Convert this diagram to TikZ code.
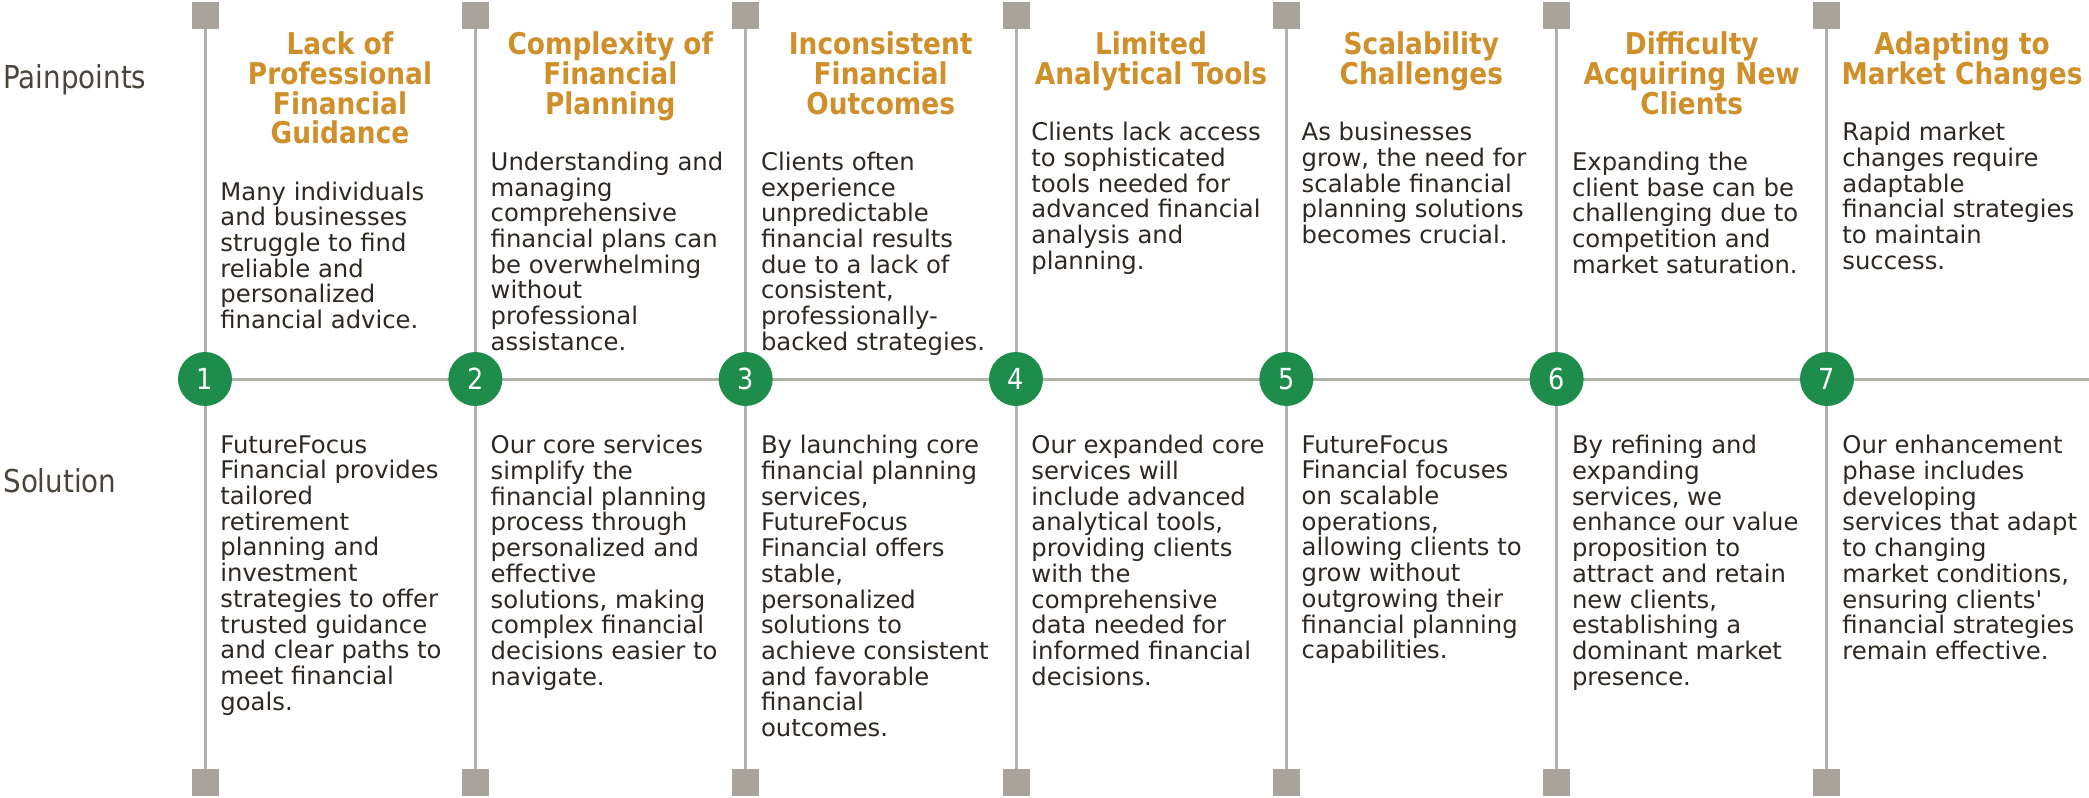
\documentclass[tikz,border=0pt]{standalone}
\usepackage{fontspec}
\setmainfont{DejaVu Sans}
\newfontfamily\narrowfont[FakeStretch=0.88]{DejaVu Sans}
\usetikzlibrary{positioning, calc, backgrounds}

\definecolor{stemgray}{HTML}{B4B0AA}
\definecolor{boxgray}{HTML}{A8A49C}
\definecolor{stepgreen}{HTML}{1E8C4B}
\definecolor{headgold}{HTML}{CF8F2A}
\definecolor{bodyink}{HTML}{2E2822}
\definecolor{rowink}{HTML}{4A443C}

\begin{document}
\begin{tikzpicture}[
    x=0.5pt, y=0.5pt,
    stem/.style={draw=stemgray, line width=1.5pt},
    endbox/.style={fill=boxgray, minimum size=13.5pt, inner sep=0pt},
    stepnum/.style={circle, fill=stepgreen, text=white, minimum size=27pt, inner sep=0pt,
                    font=\narrowfont\fontsize{14.5}{15}\selectfont},
    rowlabel/.style={anchor=base west, inner sep=0pt, text=rowink,
                     font=\narrowfont\fontsize{15.75}{17}\selectfont},
    head/.style={anchor=north, align=center, inner sep=0pt, text=headgold,
                 font=\narrowfont\bfseries\fontsize{15}{14.85}\selectfont,
                 execute at begin node=\strut, execute at end node=\strut},
    body/.style={anchor=north west, align=left, inner sep=0pt, text=bodyink,
                 font=\fontsize{12.15}{12.85}\selectfont,
                 execute at begin node=\strut, execute at end node=\strut}
  ]
    \useasboundingbox (0,0) rectangle (2089,-798);

    % timeline: end boxes and numbered steps
    \foreach \i in {1,...,7} {
      \node[endbox] (top\i) at ({205+270.33*(\i-1)},-15.5) {};
      \node[endbox] (bot\i) at ({205+270.33*(\i-1)},-782.5) {};
      \node[stepnum] (n\i) at ({205+270.33*(\i-1)},-379) {\i};
    }
    \coordinate (railend) at (2089,-379);

    \begin{scope}[on background layer]
      \foreach \i in {1,...,7} \draw[stem] (top\i.center) -- (bot\i.center);
      \draw[stem] (n1.center) -- (railend);
    \end{scope}

    \node[rowlabel] (painlbl) at (3,-88) {Painpoints};
    \node[rowlabel] (sollbl) at (3,-492) {Solution};

    % pain points
    \node[head] (h1) at (340,-31.7) {Lack of\\Professional\\Financial\\Guidance};
    \node[head] (h2) at (610.3,-31.7) {Complexity of\\Financial\\Planning};
    \node[head] (h3) at (880.7,-31.7) {Inconsistent\\Financial\\Outcomes};
    \node[head] (h4) at (1151,-31.7) {Limited\\Analytical Tools};
    \node[head] (h5) at (1421.3,-31.7) {Scalability\\Challenges};
    \node[head] (h6) at (1691.7,-31.7) {Difficulty\\Acquiring New\\Clients};
    \node[head] (h7) at (1962,-31.7) {Adapting to\\Market Changes};

    \node[body] (p1) at ($(h1.south -| top1)+(15,-28)$)
      {Many individuals\\and businesses\\struggle to find\\reliable and\\personalized\\financial advice.};
    \node[body] (p2) at ($(h2.south -| top2)+(15,-28)$)
      {Understanding and\\managing\\comprehensive\\financial plans can\\be overwhelming\\without\\professional\\assistance.};
    \node[body] (p3) at ($(h3.south -| top3)+(15,-28)$)
      {Clients often\\experience\\unpredictable\\financial results\\due to a lack of\\consistent,\\professionally-\\backed strategies.};
    \node[body] (p4) at ($(h4.south -| top4)+(15,-28)$)
      {Clients lack access\\to sophisticated\\tools needed for\\advanced financial\\analysis and\\planning.};
    \node[body] (p5) at ($(h5.south -| top5)+(15,-28)$)
      {As businesses\\grow, the need for\\scalable financial\\planning solutions\\becomes crucial.};
    \node[body] (p6) at ($(h6.south -| top6)+(15,-28)$)
      {Expanding the\\client base can be\\challenging due to\\competition and\\market saturation.};
    \node[body] (p7) at ($(h7.south -| top7)+(15,-28)$)
      {Rapid market\\changes require\\adaptable\\financial strategies\\to maintain\\success.};

    % solutions
    \node[body] (s1) at ($(n1)+(15,-56)$)
      {FutureFocus\\Financial provides\\tailored\\retirement\\planning and\\investment\\strategies to offer\\trusted guidance\\and clear paths to\\meet financial\\goals.};
    \node[body] (s2) at ($(n2)+(15,-56)$)
      {Our core services\\simplify the\\financial planning\\process through\\personalized and\\effective\\solutions, making\\complex financial\\decisions easier to\\navigate.};
    \node[body] (s3) at ($(n3)+(15,-56)$)
      {By launching core\\financial planning\\services,\\FutureFocus\\Financial offers\\stable,\\personalized\\solutions to\\achieve consistent\\and favorable\\financial\\outcomes.};
    \node[body] (s4) at ($(n4)+(15,-56)$)
      {Our expanded core\\services will\\include advanced\\analytical tools,\\providing clients\\with the\\comprehensive\\data needed for\\informed financial\\decisions.};
    \node[body] (s5) at ($(n5)+(15,-56)$)
      {FutureFocus\\Financial focuses\\on scalable\\operations,\\allowing clients to\\grow without\\outgrowing their\\financial planning\\capabilities.};
    \node[body] (s6) at ($(n6)+(15,-56)$)
      {By refining and\\expanding\\services, we\\enhance our value\\proposition to\\attract and retain\\new clients,\\establishing a\\dominant market\\presence.};
    \node[body] (s7) at ($(n7)+(15,-56)$)
      {Our enhancement\\phase includes\\developing\\services that adapt\\to changing\\market conditions,\\ensuring clients\textquotesingle\\financial strategies\\remain effective.};
  \end{tikzpicture}
\end{document}
